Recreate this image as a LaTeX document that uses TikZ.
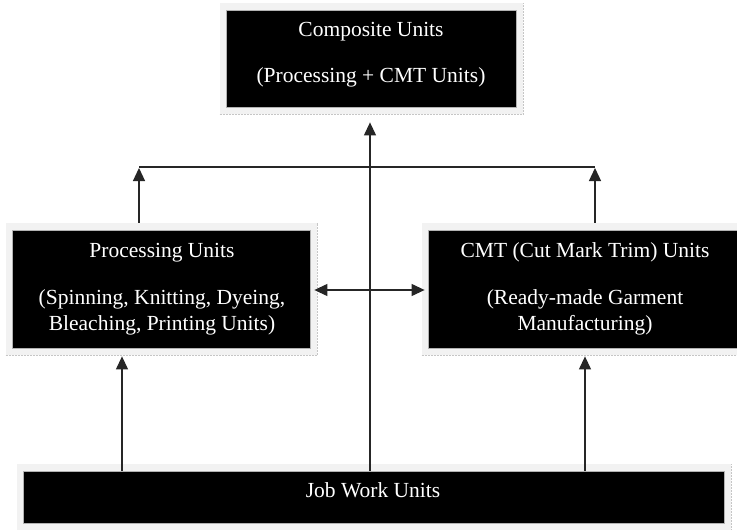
\documentclass[tikz,border=0pt]{standalone}
\usepackage{fontspec}
\setmainfont{Liberation Serif}
\usetikzlibrary{arrows.meta,backgrounds,calc}
\tikzset{
  box/.style={fill=black,draw=gray!60,line width=0.8pt,inner sep=0pt},
  txt/.style={text=white,anchor=base,inner sep=0pt,font=\rmfamily\fontsize{21.5pt}{26pt}\selectfont},
  framefill/.style={fill=gray!10},
  shadowline/.style={draw=gray!45,line width=1.8pt,dash pattern=on 2pt off 1pt},
  arr/.style={draw=black!85,line width=1.2pt,-{Triangle[length=13pt,width=12pt]}},
  darr/.style={draw=black!85,line width=1.2pt,{Triangle[length=13pt,width=12pt]}-{Triangle[length=13pt,width=12pt]}},
  ln/.style={draw=black!85,line width=1.2pt}
}
\newcommand{\myframeof}[1]{%
  \fill[framefill] ($(#1.north west)+(-6,-7)$) rectangle ($(#1.south east)+(7,7)$);
  \draw[shadowline] ($(#1.south west)+(-6,7)$) -- ($(#1.south east)+(7,7)$) -- ($(#1.north east)+(7,-7)$);
}
\begin{document}
\begin{tikzpicture}[x=1pt,y=-1pt]
\useasboundingbox (0,0) rectangle (737,530);

% boxes
\node[box,minimum width=290pt,minimum height=97pt] (comp) at (371,58.5) {};
\node[box,minimum width=298pt,minimum height=118pt] (proc) at (161,289) {};
\node[box,minimum width=312pt,minimum height=118pt] (cmt) at (584,289) {};
\node[box,minimum width=701pt,minimum height=52pt] (job) at (373.5,497) {};

\begin{scope}[on background layer]
  \fill[white] (0,0) rectangle (737,530);
  \myframeof{comp}
  \myframeof{proc}
  \myframeof{cmt}
  \myframeof{job}
\end{scope}

% texts
\node[txt] (comp-t1) at (371,36) {Composite Units};
\node[txt] (comp-t2) at (371,82) {(Processing + CMT Units)};
\node[txt] (proc-t1) at (162,257) {Processing Units};
\node[txt] (proc-t2) at (162,304) {(Spinning, Knitting, Dyeing,};
\node[txt] (proc-t3) at (162,330) {Bleaching, Printing Units)};
\node[txt] (cmt-t1) at (585,257) {CMT (Cut Mark Trim) Units};
\node[txt] (cmt-t2) at (585,304) {(Ready-made Garment};
\node[txt] (cmt-t3) at (585,330) {Manufacturing)};
\node[txt] (job-t1) at (373,497) {Job Work Units};

% helper coordinates
\coordinate (xa) at (122,0);
\coordinate (xb) at (139,0);
\coordinate (xc) at (370,0);
\coordinate (xd) at (595,0);
\coordinate (xe) at (585,0);
\coordinate (hl) at (0,167);

% connectors
\draw[arr] (job.north -| xa) -- ($(proc.south -| xa)+(0,8)$);
\draw[arr] (job.north -| xe) -- ($(cmt.south -| xe)+(0,8)$);
\draw[arr] (job.north -| xc) -- ($(comp.south -| xc)+(0,15)$);
\draw[arr] ($(proc.north -| xb)+(0,-7)$) -- ($(hl -| xb)+(0,1)$);
\draw[arr] ($(cmt.north -| xd)+(0,-7)$) -- ($(hl -| xd)+(0,1)$);
\draw[ln] (hl -| xb) -- (hl -| xd);
\draw[darr] ($(proc.east)+(4,1)$) -- ($(cmt.west)+(-3,1)$);
\end{tikzpicture}
\end{document}
